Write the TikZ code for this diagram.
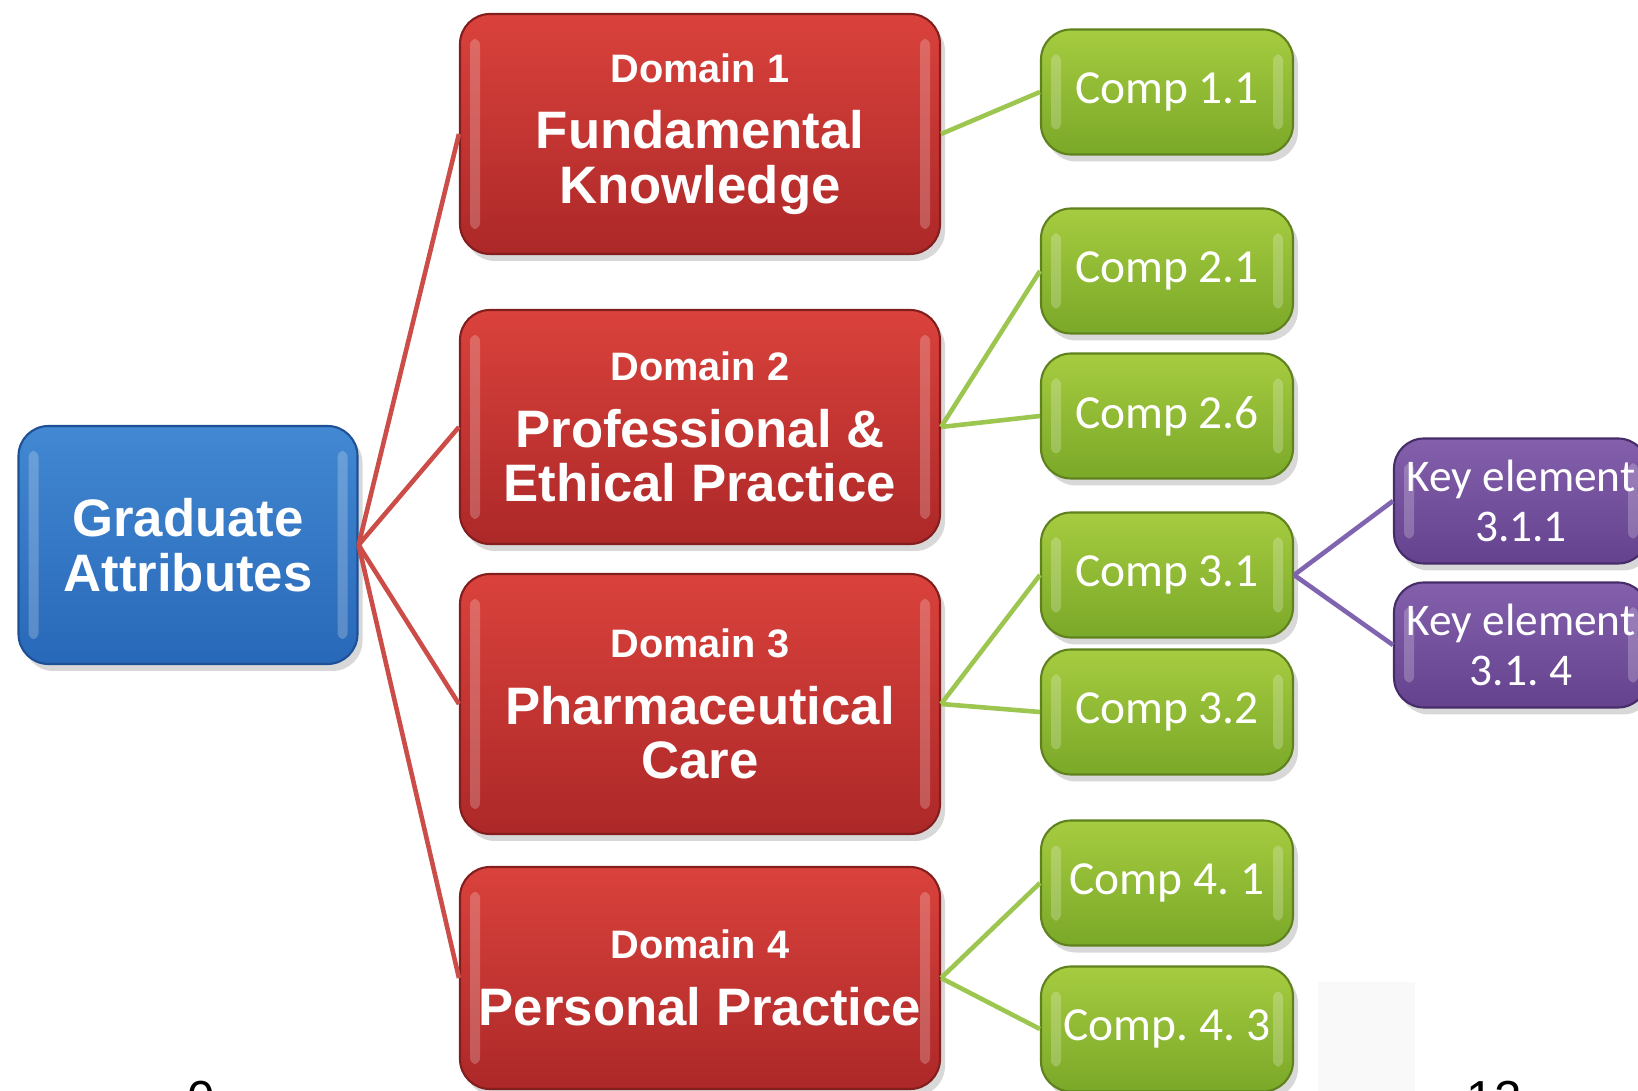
\documentclass[tikz,border=0pt]{standalone}
\usepackage{fontspec}
\setmainfont{Liberation Sans}
\newfontfamily\compfont{Carlito}
\usetikzlibrary{shadows}

\definecolor{gatop}{RGB}{66,136,210}
\definecolor{gabot}{RGB}{40,104,184}
\definecolor{gaedge}{RGB}{30,80,150}
\definecolor{domtop}{RGB}{218,66,60}
\definecolor{dombot}{RGB}{172,40,40}
\definecolor{domedge}{RGB}{130,30,30}
\definecolor{comptop}{RGB}{166,204,64}
\definecolor{compbot}{RGB}{122,168,40}
\definecolor{compedge}{RGB}{95,130,30}
\definecolor{keytop}{RGB}{132,96,172}
\definecolor{keybot}{RGB}{100,66,142}
\definecolor{keyedge}{RGB}{70,45,105}
\definecolor{redline}{RGB}{204,76,72}
\definecolor{greenline}{RGB}{156,198,80}
\definecolor{purpleline}{RGB}{128,100,176}

\begin{document}
\begin{tikzpicture}[x=0.1mm, y=-0.1mm,
   basebox/.style={rounded corners=3mm, draw, line width=0.6pt, text=white,
               align=center, inner sep=0pt,
               drop shadow={opacity=0.3, shadow xshift=0.5mm, shadow yshift=-0.7mm},
               path picture={
                 \fill[white, opacity=0.22, rounded corners=0.6mm]
                   ([xshift=1mm,yshift=-2.5mm]path picture bounding box.north west)
                   rectangle ([xshift=2mm,yshift=2.5mm]path picture bounding box.south west);
                 \fill[white, opacity=0.22, rounded corners=0.6mm]
                   ([xshift=-1mm,yshift=-2.5mm]path picture bounding box.north east)
                   rectangle ([xshift=-2mm,yshift=2.5mm]path picture bounding box.south east);}},
   gradbox/.style={basebox, top color=gatop, bottom color=gabot, draw=gaedge,
                   minimum width=33.9mm, minimum height=23.8mm,
                   font=\fontsize{15}{15.5}\selectfont\bfseries},
   dombox/.style={basebox, top color=domtop, bottom color=dombot, draw=domedge,
                  minimum width=48mm,
                  font=\fontsize{15}{15.5}\selectfont\bfseries},
   compbox/.style={basebox, top color=comptop, bottom color=compbot, draw=compedge,
                minimum width=25.2mm, minimum height=12.5mm,
                font=\compfont\fontsize{13.5}{14}\selectfont\frenchspacing},
   keybox/.style={basebox, top color=keytop, bottom color=keybot, draw=keyedge,
                 minimum width=25.4mm, minimum height=12.5mm,
                 font=\compfont\fontsize{12.9}{14}\selectfont\frenchspacing},
   link/.style={line width=1.3pt}]

\clip (0,0) rectangle (1638,1091);
\fill[white] (0,0) rectangle (1638,1091);
\fill[gray!5] (1318,982) rectangle (1415,1091);

% root
\node[gradbox] (ga) at (188,545) {Graduate\\Attributes};

% domains
\node[dombox, minimum height=24mm] (d1) at (700,134)
    {{\fontsize{11.3}{12}\selectfont Domain 1}\\[3.5pt] Fundamental\\Knowledge};
\node[dombox, minimum height=23.4mm] (d2) at (700,427)
    {{\fontsize{11.3}{12}\selectfont Domain 2}\\[3.5pt] Professional \&\\Ethical Practice};
\node[dombox, minimum height=26mm] (d3) at (700,704)
    {{\fontsize{11.3}{12}\selectfont Domain 3}\\[3.5pt] Pharmaceutical\\Care};
\node[dombox, minimum height=22.2mm] (d4) at (700,978)
    {{\fontsize{11.3}{12}\selectfont Domain 4}\\[3.5pt] Personal Practice};

% competencies
\node[compbox] (c11) at (1167,92)   {Comp 1.1};
\node[compbox] (c21) at (1167,271)  {Comp 2.1};
\node[compbox] (c26) at (1167,416)  {Comp 2.6};
\node[compbox] (c31) at (1167,575)  {Comp 3.1};
\node[compbox] (c32) at (1167,712)  {Comp 3.2};
\node[compbox] (c41) at (1167,883)  {Comp 4. 1};
\node[compbox] (c43) at (1167,1029) {Comp. 4. 3};

% key elements
\node[keybox] (k1) at (1521,501) {Key element\\3.1.1};
\node[keybox] (k2) at (1521,645) {Key element\\3.1. 4};

% connectors
\foreach \d in {d1,d2,d3,d4}
    \draw[link, redline] (ga.east) -- (\d.west);
\draw[link, greenline] (d1.east) -- (c11.west);
\draw[link, greenline] (d2.east) -- (c21.west);
\draw[link, greenline] (d2.east) -- (c26.west);
\draw[link, greenline] (d3.east) -- (c31.west);
\draw[link, greenline] (d3.east) -- (c32.west);
\draw[link, greenline] (d4.east) -- (c41.west);
\draw[link, greenline] (d4.east) -- (c43.west);
\draw[link, purpleline] (c31.east) -- (k1.west);
\draw[link, purpleline] (c31.east) -- (k2.west);

% page numbers, cut off at the bottom
\node[anchor=base, font=\fontsize{14}{14}\selectfont] (pl) at (201,1115) {0};
\node[anchor=base, font=\fontsize{14}{14}\selectfont] (pr) at (1494,1115) {12};

\end{tikzpicture}
\end{document}
